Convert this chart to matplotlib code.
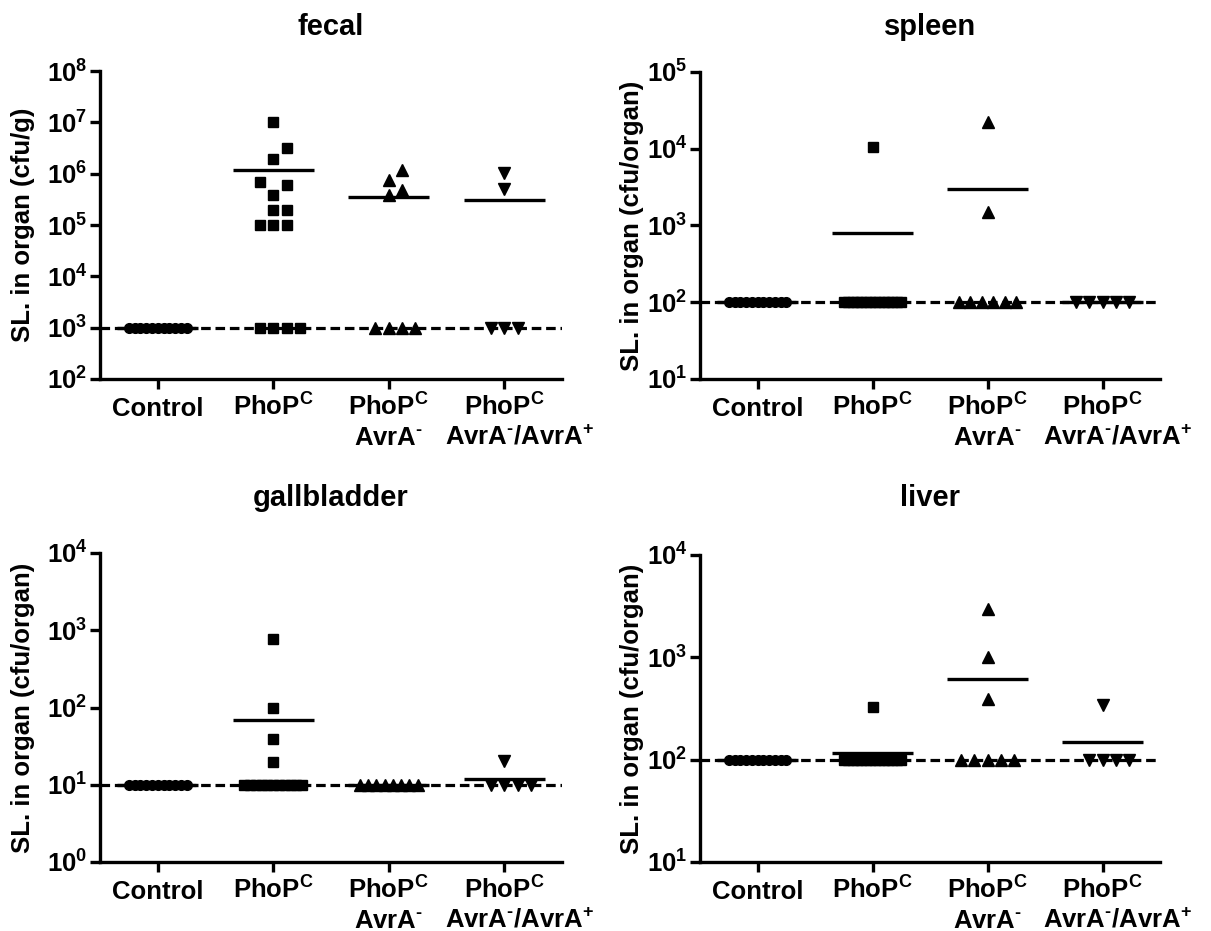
import numpy as np
import matplotlib
matplotlib.use('Agg')
import matplotlib.pyplot as plt
from matplotlib import transforms
from matplotlib.ticker import FixedLocator, NullLocator, NullFormatter

plt.rcParams['font.family'] = ['Liberation Sans', 'DejaVu Sans']
plt.rcParams['font.weight'] = 'bold'
plt.rcParams['mathtext.fontset'] = 'custom'
plt.rcParams['mathtext.rm'] = 'Liberation Sans:bold'
plt.rcParams['mathtext.bf'] = 'Liberation Sans:bold'
plt.rcParams['mathtext.it'] = 'Liberation Sans:bold'
plt.rcParams['mathtext.sf'] = 'Liberation Sans:bold'

# ---------------- data ----------------
SUP_MINUS = '$^{\\mathbf{\u2010}}$'
SUP_PLUS = '$^{\\mathbf{+}}$'
SUP_C = '$^{\\mathbf{C}}$'
group_line1 = ['Control', 'PhoP' + SUP_C, 'PhoP' + SUP_C, 'PhoP' + SUP_C]
group_line2 = ['', '', 'AvrA' + SUP_MINUS, 'AvrA' + SUP_MINUS + '/AvrA' + SUP_PLUS]

panel_titles = ['fecal', 'spleen', 'gallbladder', 'liver']
panel_ylabels = ['SL. in organ (cfu/g)', 'SL. in organ (cfu/organ)',
                 'SL. in organ (cfu/organ)', 'SL. in organ (cfu/organ)']
panel_ylog_range = [(2, 8), (1, 5), (0, 4), (1, 4)]
detection_limits = [1e3, 1e2, 1e1, 1e2]

fecal_control = [1e3] * 11
fecal_phopc = [1.0e7, 3.1e6, 1.9e6, 6.9e5, 5.9e5, 3.9e5, 2.0e5, 2.0e5,
               1.0e5, 1.0e5, 1.0e5, 1e3, 1e3, 1e3, 1e3]
fecal_avra = [1.2e6, 7.6e5, 4.9e5, 3.9e5, 1e3, 1e3, 1e3, 1e3]
fecal_avra_comp = [1.03e6, 5.1e5, 1e3, 1e3, 1e3]

spleen_control = [1e2] * 11
spleen_phopc = [1.05e4] + [1e2] * 14
spleen_avra = [2.2e4, 1.48e3] + [1e2] * 6
spleen_avra_comp = [1e2] * 5

gall_control = [1e1] * 11
gall_phopc = [780, 100, 39, 19.5] + [1e1] * 11
gall_avra = [1e1] * 8
gall_avra_comp = [20] + [1e1] * 4

liver_control = [1e2] * 11
liver_phopc = [325] + [1e2] * 14
liver_avra = [3000, 1010, 395] + [1e2] * 5
liver_avra_comp = [340] + [1e2] * 4

panel_data = [
    [fecal_control, fecal_phopc, fecal_avra, fecal_avra_comp],
    [spleen_control, spleen_phopc, spleen_avra, spleen_avra_comp],
    [gall_control, gall_phopc, gall_avra, gall_avra_comp],
    [liver_control, liver_phopc, liver_avra, liver_avra_comp],
]

# ---------------- style ----------------
W, H = 1211, 931
DPI = 100
markers = ['o', 's', '^', 'v']
msizes = [7.0, 7.8, 9.0, 9.0]
FS = 18.5
TFS = 21

# axes rectangles in pixels (left, top, right, bottom)
rects_px = [(100, 71, 562, 379), (700, 72, 1160, 379),
            (100, 553, 562, 862), (700, 555, 1160, 862)]
ylabel_x_px = [23, 632, 23, 632]
title_baseline_px = [35, 35, 506, 506]
line2_dx_px = [0, 0, 0, 15]


def swarm_offsets(values, px_per_decade, d=0.115, h_px=13.0, wmax=0.5):
    logs = np.log10(np.asarray(values, dtype=float))
    order = np.argsort(logs, kind='stable')
    slogs = logs[order]
    offs = np.zeros(len(logs))
    placed = []
    i = 0
    while i < len(order):
        j = i
        while j < len(order) and slogs[j] == slogs[i]:
            j += 1
        n = j - i
        ypx = slogs[i] * px_per_decade
        if n > 5:
            step = min(d, wmax / (n - 1))
            for k in range(n):
                x = (k - (n - 1) / 2) * step
                offs[order[i + k]] = x
                placed.append((x, ypx))
        else:
            for k in range(n):
                m = 0
                while True:
                    c = ((m + 1) // 2) * (1 if m % 2 == 1 else -1) * d
                    hit = any(abs(c - px) < d * 0.95 and abs(ypx - py) < h_px
                              for px, py in placed)
                    if not hit:
                        break
                    m += 1
                offs[order[i + k]] = c
                placed.append((c, ypx))
        i = j
    return offs


fig = plt.figure(figsize=(W / DPI, H / DPI), dpi=DPI)

for p in range(4):
    l, t, r, b = rects_px[p]
    ax = fig.add_axes([l / W, 1 - b / H, (r - l) / W, (b - t) / H])
    lo, hi = panel_ylog_range[p]
    ax.set_yscale('log')
    ax.set_ylim(10.0 ** lo, 10.0 ** hi)
    ax.set_xlim(-0.5, 3.5)
    px_per_dec = (b - t) / (hi - lo)

    ax.axhline(detection_limits[p], color='black', lw=2.3,
               ls=(0, (3.0, 1.5)), zorder=1)

    for g, vals in enumerate(panel_data[p]):
        offs = swarm_offsets(vals, px_per_dec)
        ax.plot(g + offs, vals, linestyle='none', marker=markers[g],
                ms=msizes[g], color='black', mec='black', zorder=3,
                clip_on=False)
        ax.hlines(np.mean(vals), g - 0.35, g + 0.35, color='black',
                  lw=2.4, zorder=2)

    for s in ['top', 'right']:
        ax.spines[s].set_visible(False)
    for s in ['left', 'bottom']:
        ax.spines[s].set_linewidth(2.4)

    decs = list(range(lo, hi + 1))
    ax.yaxis.set_major_locator(FixedLocator([10.0 ** k for k in decs]))
    ax.yaxis.set_minor_locator(NullLocator())
    ax.set_yticklabels([r'$\mathbf{10^{%d}}$' % k for k in decs])
    ax.set_xticks(range(4))
    ax.xaxis.set_major_formatter(NullFormatter())
    ax.tick_params(axis='both', direction='out', length=7.5, width=2.4,
                   labelsize=FS, color='black')
    ax.tick_params(axis='y', pad=1.5)

    base = transforms.blended_transform_factory(ax.transData, ax.transAxes)
    for g in range(4):
        tr1 = base + transforms.ScaledTranslation(0, -37 / DPI, fig.dpi_scale_trans)
        ax.text(g, 0, group_line1[g], transform=tr1, ha='center',
                va='baseline', fontsize=FS, fontweight='bold', clip_on=False)
        if group_line2[g]:
            tr2 = base + transforms.ScaledTranslation(line2_dx_px[g] / DPI, -66 / DPI,
                                                      fig.dpi_scale_trans)
            ax.text(g, 0, group_line2[g], transform=tr2, ha='center',
                    va='baseline', fontsize=FS, fontweight='bold', clip_on=False)

    fig.text(((l + r) / 2) / W, 1 - title_baseline_px[p] / H, panel_titles[p],
             ha='center', va='baseline', fontsize=TFS, fontweight='bold')
    fig.text(ylabel_x_px[p] / W, 1 - ((t + b) / 2) / H, panel_ylabels[p],
             rotation=90, ha='center', va='center', fontsize=FS,
             fontweight='bold')

fig.savefig('out.png', dpi=DPI)
